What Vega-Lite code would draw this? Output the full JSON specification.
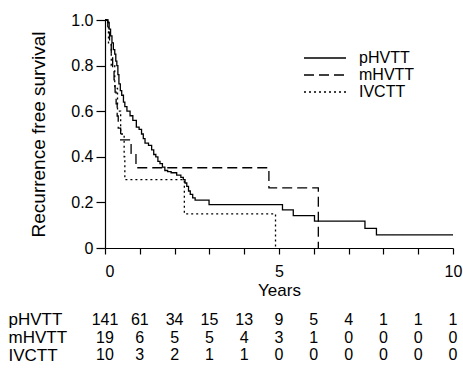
{
  "$schema": "https://vega.github.io/schema/vega-lite/v6.json",
  "background": "white",
  "padding": {"left": 8, "top": 12, "right": 5, "bottom": 5},
  "config": {
    "view": {"stroke": null},
    "font": "Liberation Sans",
    "axis": {"domainColor": "black", "tickColor": "black", "labelColor": "black", "titleColor": "black", "grid": false, "titleFontWeight": "normal", "labelFontSize": 16, "domainWidth": 1.2, "tickWidth": 1.2}
  },
  "datasets": {
    "curves": [
      {"group": "pHVTT", "t": 0, "s": 1.0},
      {"group": "pHVTT", "t": 0.08, "s": 0.99},
      {"group": "pHVTT", "t": 0.12, "s": 0.96},
      {"group": "pHVTT", "t": 0.16, "s": 0.93},
      {"group": "pHVTT", "t": 0.2, "s": 0.9},
      {"group": "pHVTT", "t": 0.24, "s": 0.87},
      {"group": "pHVTT", "t": 0.28, "s": 0.85},
      {"group": "pHVTT", "t": 0.31, "s": 0.82},
      {"group": "pHVTT", "t": 0.34, "s": 0.8},
      {"group": "pHVTT", "t": 0.37, "s": 0.76},
      {"group": "pHVTT", "t": 0.4, "s": 0.72},
      {"group": "pHVTT", "t": 0.44, "s": 0.69},
      {"group": "pHVTT", "t": 0.48, "s": 0.67},
      {"group": "pHVTT", "t": 0.53, "s": 0.64},
      {"group": "pHVTT", "t": 0.57, "s": 0.62},
      {"group": "pHVTT", "t": 0.63, "s": 0.6},
      {"group": "pHVTT", "t": 0.72, "s": 0.58},
      {"group": "pHVTT", "t": 0.8, "s": 0.56},
      {"group": "pHVTT", "t": 0.9, "s": 0.53},
      {"group": "pHVTT", "t": 0.98, "s": 0.52},
      {"group": "pHVTT", "t": 1.05, "s": 0.5},
      {"group": "pHVTT", "t": 1.1, "s": 0.48},
      {"group": "pHVTT", "t": 1.15, "s": 0.46},
      {"group": "pHVTT", "t": 1.25, "s": 0.45},
      {"group": "pHVTT", "t": 1.34, "s": 0.43},
      {"group": "pHVTT", "t": 1.4, "s": 0.41},
      {"group": "pHVTT", "t": 1.46, "s": 0.4},
      {"group": "pHVTT", "t": 1.52, "s": 0.38},
      {"group": "pHVTT", "t": 1.58, "s": 0.37},
      {"group": "pHVTT", "t": 1.65, "s": 0.355},
      {"group": "pHVTT", "t": 1.72, "s": 0.34},
      {"group": "pHVTT", "t": 1.8, "s": 0.335},
      {"group": "pHVTT", "t": 1.9, "s": 0.33},
      {"group": "pHVTT", "t": 2.06, "s": 0.32},
      {"group": "pHVTT", "t": 2.18, "s": 0.31},
      {"group": "pHVTT", "t": 2.25, "s": 0.3},
      {"group": "pHVTT", "t": 2.3, "s": 0.285},
      {"group": "pHVTT", "t": 2.35, "s": 0.27},
      {"group": "pHVTT", "t": 2.4, "s": 0.25},
      {"group": "pHVTT", "t": 2.45, "s": 0.235},
      {"group": "pHVTT", "t": 2.52, "s": 0.22},
      {"group": "pHVTT", "t": 2.59, "s": 0.21},
      {"group": "pHVTT", "t": 2.99, "s": 0.19},
      {"group": "pHVTT", "t": 5.1, "s": 0.167},
      {"group": "pHVTT", "t": 5.41, "s": 0.142},
      {"group": "pHVTT", "t": 6.02, "s": 0.118},
      {"group": "pHVTT", "t": 7.47, "s": 0.086},
      {"group": "pHVTT", "t": 7.8, "s": 0.058},
      {"group": "pHVTT", "t": 10.0, "s": 0.058},
      {"group": "mHVTT", "t": 0, "s": 1.0},
      {"group": "mHVTT", "t": 0.08, "s": 0.947},
      {"group": "mHVTT", "t": 0.13, "s": 0.895},
      {"group": "mHVTT", "t": 0.18, "s": 0.842},
      {"group": "mHVTT", "t": 0.22, "s": 0.789},
      {"group": "mHVTT", "t": 0.26, "s": 0.737},
      {"group": "mHVTT", "t": 0.29, "s": 0.684},
      {"group": "mHVTT", "t": 0.32, "s": 0.632},
      {"group": "mHVTT", "t": 0.35, "s": 0.579},
      {"group": "mHVTT", "t": 0.38, "s": 0.526},
      {"group": "mHVTT", "t": 0.45, "s": 0.474},
      {"group": "mHVTT", "t": 0.75, "s": 0.415},
      {"group": "mHVTT", "t": 0.89, "s": 0.352},
      {"group": "mHVTT", "t": 4.71, "s": 0.264},
      {"group": "mHVTT", "t": 6.13, "s": 0.0},
      {"group": "IVCTT", "t": 0, "s": 1.0},
      {"group": "IVCTT", "t": 0.1, "s": 0.9},
      {"group": "IVCTT", "t": 0.18, "s": 0.8},
      {"group": "IVCTT", "t": 0.28, "s": 0.7},
      {"group": "IVCTT", "t": 0.36, "s": 0.6},
      {"group": "IVCTT", "t": 0.45, "s": 0.5},
      {"group": "IVCTT", "t": 0.55, "s": 0.4},
      {"group": "IVCTT", "t": 0.57, "s": 0.3},
      {"group": "IVCTT", "t": 2.28, "s": 0.15},
      {"group": "IVCTT", "t": 4.9, "s": 0.0}
    ],
    "risk": [
      {"group": "pHVTT", "year": 0, "n": 141}, {"group": "pHVTT", "year": 1, "n": 61}, {"group": "pHVTT", "year": 2, "n": 34}, {"group": "pHVTT", "year": 3, "n": 15}, {"group": "pHVTT", "year": 4, "n": 13}, {"group": "pHVTT", "year": 5, "n": 9}, {"group": "pHVTT", "year": 6, "n": 5}, {"group": "pHVTT", "year": 7, "n": 4}, {"group": "pHVTT", "year": 8, "n": 1}, {"group": "pHVTT", "year": 9, "n": 1}, {"group": "pHVTT", "year": 10, "n": 1},
      {"group": "mHVTT", "year": 0, "n": 19}, {"group": "mHVTT", "year": 1, "n": 6}, {"group": "mHVTT", "year": 2, "n": 5}, {"group": "mHVTT", "year": 3, "n": 5}, {"group": "mHVTT", "year": 4, "n": 4}, {"group": "mHVTT", "year": 5, "n": 3}, {"group": "mHVTT", "year": 6, "n": 1}, {"group": "mHVTT", "year": 7, "n": 0}, {"group": "mHVTT", "year": 8, "n": 0}, {"group": "mHVTT", "year": 9, "n": 0}, {"group": "mHVTT", "year": 10, "n": 0},
      {"group": "IVCTT", "year": 0, "n": 10}, {"group": "IVCTT", "year": 1, "n": 3}, {"group": "IVCTT", "year": 2, "n": 2}, {"group": "IVCTT", "year": 3, "n": 1}, {"group": "IVCTT", "year": 4, "n": 1}, {"group": "IVCTT", "year": 5, "n": 0}, {"group": "IVCTT", "year": 6, "n": 0}, {"group": "IVCTT", "year": 7, "n": 0}, {"group": "IVCTT", "year": 8, "n": 0}, {"group": "IVCTT", "year": 9, "n": 0}, {"group": "IVCTT", "year": 10, "n": 0}
    ]
  },
  "bounds": "flush",
  "spacing": 63,
  "vconcat": [
    {
      "width": 348,
      "height": 228,
      "data": {"name": "curves"},
      "mark": {"type": "line", "interpolate": "step-after", "color": "black", "strokeWidth": 1.3},
      "encoding": {
        "x": {
          "field": "t", "type": "quantitative",
          "scale": {"domain": [0, 10], "nice": false},
          "axis": {
            "title": "Years", "titleFontSize": 17, "titlePadding": 3,
            "values": [0, 1, 2, 3, 4, 5, 6, 7, 8, 9, 10],
            "labelExpr": "datum.value % 5 === 0 ? datum.label : ''",
            "labelFlush": false, "labelOverlap": false,
            "labelAlign": {"condition": {"test": "datum.value === 0", "value": "left"}, "value": "center"},
            "tickSize": 6, "labelPadding": 9
          }
        },
        "y": {
          "field": "s", "type": "quantitative",
          "scale": {"domain": [0, 1], "nice": false},
          "axis": {
            "title": "Recurrence free survival", "titleFontSize": 19, "titlePadding": 22,
            "values": [0, 0.2, 0.4, 0.6, 0.8, 1],
            "labelExpr": "datum.value === 0 ? '0' : format(datum.value, '.1f')",
            "tickSize": 9, "labelPadding": 3
          }
        },
        "strokeDash": {
          "field": "group", "type": "nominal",
          "scale": {"domain": ["pHVTT", "mHVTT", "IVCTT"], "range": [[1, 0], [10, 5], [2, 3]]},
          "legend": {
            "orient": "none", "legendX": 212, "legendY": 30, "title": null,
            "symbolType": "M-3,0H3", "symbolSize": 196, "symbolStrokeWidth": 1.3, "symbolStrokeColor": "black",
            "labelFontSize": 16, "labelColor": "black", "labelOffset": 26, "padding": 0, "rowPadding": 1
          }
        }
      }
    },
    {
      "width": 348,
      "height": 53,
      "data": {"name": "risk"},
      "mark": {"type": "text", "fontSize": 16, "color": "black"},
      "encoding": {
        "x": {"field": "year", "type": "quantitative", "scale": {"domain": [0, 10], "nice": false}, "axis": null},
        "y": {
          "field": "group", "type": "nominal", "sort": ["pHVTT", "mHVTT", "IVCTT"],
          "scale": {"type": "point", "padding": 0.5},
          "axis": {"title": null, "domain": false, "ticks": false, "labelAlign": "left", "labelPadding": 97, "labelFontSize": 17}
        },
        "text": {"field": "n", "type": "quantitative"}
      }
    }
  ]
}
